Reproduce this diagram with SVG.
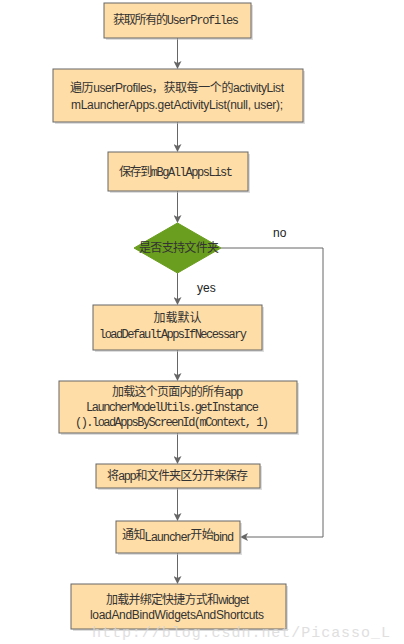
<svg xmlns="http://www.w3.org/2000/svg" width="404" height="644" viewBox="0 0 404 644">
<style>
.box{fill:#FFDDA6;stroke:#666;stroke-width:1}
.sh{fill:#bbb;opacity:0.5}
.t{font-size:12px;fill:#333}
.cn{font-family:"Noto Sans CJK SC","Liberation Serif",serif}
.mo{font-family:"Liberation Mono","Noto Sans CJK SC",monospace}
.sa{font-family:"Liberation Sans","Noto Sans CJK SC",sans-serif}
.lbl{font-family:"Liberation Sans",sans-serif;font-size:12px;fill:#222}
.edge{fill:none;stroke:#666;stroke-width:1}
</style>
<defs>
<marker id="arr" markerWidth="8" markerHeight="8" refX="7" refY="4" orient="auto" markerUnits="userSpaceOnUse">
<path d="M0,0 L8,4 L0,8 L2,4 Z" fill="#666"/>
</marker>
</defs>
<rect width="404" height="644" fill="#fff"/>
<g id="connectors">
<line class="edge" x1="177.5" y1="38" x2="177.5" y2="68" marker-end="url(#arr)"/>
<line class="edge" x1="177.5" y1="122" x2="177.5" y2="151" marker-end="url(#arr)"/>
<line class="edge" x1="177.5" y1="191" x2="177.5" y2="222" marker-end="url(#arr)"/>
<line class="edge" x1="177.5" y1="273" x2="177.5" y2="304" marker-end="url(#arr)"/>
<line class="edge" x1="177.5" y1="350" x2="177.5" y2="380" marker-end="url(#arr)"/>
<line class="edge" x1="177.5" y1="433" x2="177.5" y2="463" marker-end="url(#arr)"/>
<line class="edge" x1="177.5" y1="488" x2="177.5" y2="520" marker-end="url(#arr)"/>
<line class="edge" x1="177.5" y1="553" x2="177.5" y2="583" marker-end="url(#arr)"/>
<polyline class="edge" points="221,248 323,248 323,537 241,537" marker-end="url(#arr)"/>
<text class="lbl" x="273" y="237">no</text>
<text class="lbl" x="197" y="292">yes</text>
</g>
<g id="n1">
<rect class="sh" x="106" y="5" width="147" height="35"/>
<rect class="box" x="104" y="3" width="147" height="35"/>
<text class="t" x="113" y="24" textLength="126"><tspan class="cn">获取所有的</tspan><tspan class="mo">UserProfiles</tspan></text>
</g>
<g id="n2">
<rect class="sh" x="55" y="71" width="250" height="53"/>
<rect class="box" x="53" y="69" width="250" height="53"/>
<text class="t" x="70" y="92" textLength="214"><tspan class="cn">遍历</tspan><tspan class="sa">userProfiles</tspan><tspan class="cn">，获取每一个的</tspan><tspan class="sa">activityList</tspan></text>
<text class="t sa" x="71" y="109" textLength="212">mLauncherApps.getActivityList(null, user);</text>
</g>
<g id="n3">
<rect class="sh" x="110" y="154" width="140" height="39"/>
<rect class="box" x="108" y="152" width="140" height="39"/>
<text class="t" x="119" y="176" textLength="114"><tspan class="cn">保存到</tspan><tspan class="mo">mBgAllAppsList</tspan></text>
</g>
<g id="d1">
<polygon points="177.5,223 221,248 177.5,273 134,248" fill="#6A9E1E" stroke="#6A9E1E"/>
<text class="t cn" x="139" y="252" textLength="80" fill="#333">是否支持文件夹</text>
</g>
<g id="n4">
<rect class="sh" x="95" y="307" width="169" height="45"/>
<rect class="box" x="93" y="305" width="169" height="45"/>
<text class="t cn" x="177.5" y="322" text-anchor="middle">加载默认</text>
<text class="t mo" x="99" y="338" textLength="148">loadDefaultAppsIfNecessary</text>
</g>
<g id="n5">
<rect class="sh" x="61" y="383" width="238" height="52"/>
<rect class="box" x="59" y="381" width="238" height="52"/>
<text class="t" x="112" y="396" textLength="131"><tspan class="cn">加载这个页面内的所有</tspan><tspan class="sa">app</tspan></text>
<text class="t mo" x="86" y="411" textLength="173">LauncherModelUtils.getInstance</text>
<text class="t mo" x="75" y="426" textLength="194">().loadAppsByScreenId(mContext, 1)</text>
</g>
<g id="n6">
<rect class="sh" x="98" y="466" width="164" height="24"/>
<rect class="box" x="96" y="464" width="164" height="24"/>
<text class="t" x="107" y="480" textLength="141"><tspan class="cn">将</tspan><tspan class="sa">app</tspan><tspan class="cn">和文件夹区分开来保存</tspan></text>
</g>
<g id="n7">
<rect class="sh" x="118" y="523" width="124" height="32"/>
<rect class="box" x="116" y="521" width="124" height="32"/>
<text class="t" x="122" y="541" textLength="112"><tspan class="cn" dy="-2">通知</tspan><tspan class="sa" dy="2">Launcher</tspan><tspan class="cn" dy="-2">开始</tspan><tspan class="sa" dy="2">bind</tspan></text>
</g>
<g id="n8">
<rect class="sh" x="73" y="586" width="215" height="45"/>
<rect class="box" x="71" y="584" width="215" height="45"/>
<text class="t" x="106" y="604" textLength="143"><tspan class="cn">加载并绑定快捷方式和</tspan><tspan class="sa">widget</tspan></text>
<text class="t sa" x="90" y="619" textLength="174">loadAndBindWidgetsAndShortcuts</text>
</g>
<text x="92" y="637" textLength="298" font-family="Liberation Mono, monospace" font-size="15" fill="#d8d8d8" opacity="0.8">http://blog.csdn.net/Picasso_L</text>
</svg>
